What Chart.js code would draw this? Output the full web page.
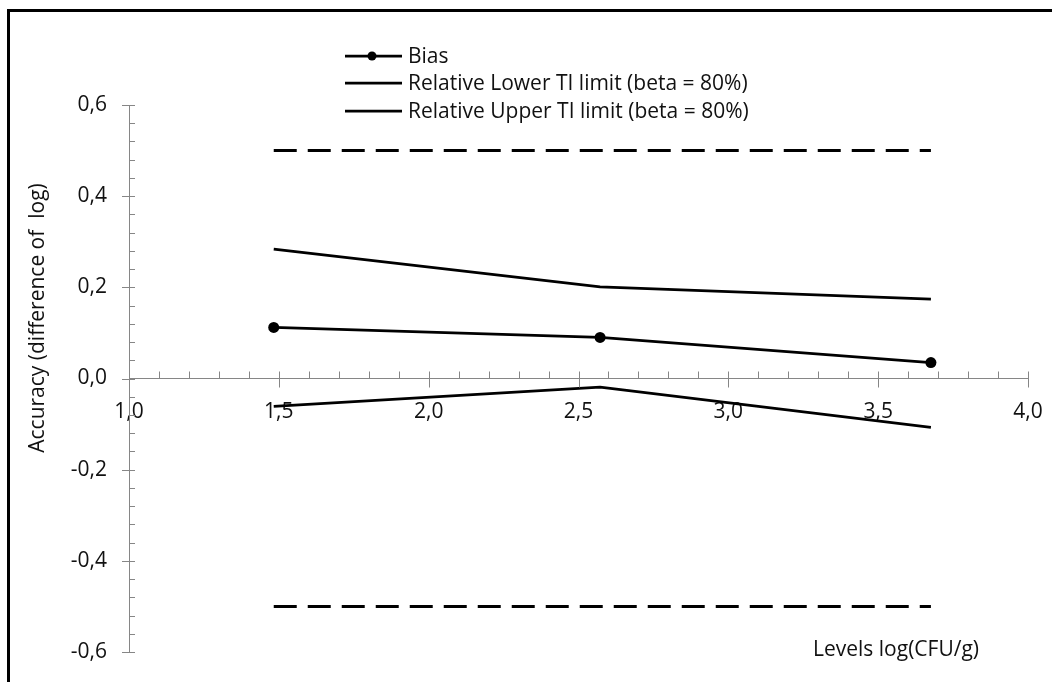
<!DOCTYPE html>
<html>
<head>
<meta charset="utf-8">
<script src="https://cdn.jsdelivr.net/npm/chart.js@4"></script>
<style>
  html, body { margin: 0; padding: 0; background: #fff; overflow: hidden; }
  #frame { position: absolute; left: 7px; top: 9px; width: 1200px; height: 800px; border: 3px solid #000; }
  #wrap { position: absolute; left: 0; top: 0; width: 1052px; height: 682px; }
</style>
</head>
<body>
<div id="frame"></div>
<div id="wrap"><canvas id="accChart" width="1052" height="682"></canvas></div>
<script>
// Levels and results
const levels = [1.483, 2.572, 3.676];
const bias = [0.112, 0.090, 0.035];
const lowerTI = [-0.061, -0.019, -0.107];
const upperTI = [0.284, 0.201, 0.174];

// acceptance limits (dashed)
const limitX = [1.483, 3.676];
const upperLimit = [0.5, 0.5];
const lowerLimit = [-0.5, -0.5];

const legendLabels = ['Bias', 'Relative Lower TI limit (beta = 80%)', 'Relative Upper TI limit (beta = 80%)'];
const xTitle = 'Levels log(CFU/g)';
const yTitle = 'Accuracy (difference of  log)';

const FONT = '"Open Sans", "Noto Sans", sans-serif';
const FSIZE = 21;
const TXT = '#111';

function pts(xs, ys) {
    return xs.map((x, i) => ({ x: x, y: ys[i] }));
}

function fmt(v) {
    if (Math.abs(v) < 1e-9) v = 0;
    return v.toFixed(1).replace('.', ',');
}

// Excel-like tick marks, axis titles and legend
const decor = {
    id: 'decor',
    afterDraw(chart) {
        const ctx = chart.ctx;
        const xs = chart.scales.x, ys = chart.scales.y;
        const x0 = ys.left + ys.width; // y axis line
        const y0 = ys.getPixelForValue(0); // x axis line
        ctx.save();
        ctx.strokeStyle = '#868686';
        ctx.lineWidth = 1;
        ctx.beginPath();
        // y axis: major cross, minor inside
        for (let i = 0; i <= 30; i++) {
            const v = -0.6 + i * 0.04;
            const p = Math.round(ys.getPixelForValue(v)) + 0.5;
            const major = i % 5 === 0;
            ctx.moveTo(major ? x0 - 7 : x0, p);
            ctx.lineTo(x0 + 6, p);
        }
        // x axis
        for (let i = 0; i <= 30; i++) {
            const v = 1 + i * 0.1;
            const p = Math.round(xs.getPixelForValue(v)) + 0.5;
            const major = i % 5 === 0;
            ctx.moveTo(p, y0 - 7);
            ctx.lineTo(p, major ? y0 + 9 : y0);
        }
        ctx.stroke();

        ctx.fillStyle = TXT;
        ctx.font = FSIZE + 'px ' + FONT;
        ctx.textBaseline = 'middle';
        ctx.textAlign = 'center';
        ctx.fillText(xTitle, 896, 650);
        ctx.save();
        ctx.translate(38, 318);
        ctx.rotate(-Math.PI / 2);
        ctx.fillText(yTitle, 0, 0);
        ctx.restore();

        // legend
        ctx.textAlign = 'left';
        const rows = [56, 83, 111];
        legendLabels.forEach((lab, i) => {
            const ds = chart.data.datasets[i];
            ctx.strokeStyle = ds.borderColor;
            ctx.lineWidth = ds.borderWidth;
            ctx.beginPath();
            ctx.moveTo(345, rows[i]);
            ctx.lineTo(402, rows[i]);
            ctx.stroke();
            if (ds.pointRadius > 0) {
                ctx.fillStyle = ds.pointBackgroundColor;
                ctx.beginPath();
                ctx.arc(372, rows[i], ds.pointRadius - 1, 0, Math.PI * 2);
                ctx.fill();
            }
            ctx.fillStyle = TXT;
            ctx.fillText(lab, 408, rows[i] + 1);
        });
        ctx.restore();
    }
};

const ctx = document.getElementById('accChart').getContext('2d');
const accChart = new Chart(ctx, {
    type: 'scatter',
    data: {
        datasets: [{
            label: legendLabels[0],
            data: pts(levels, bias),
            showLine: true,
            borderColor: '#000',
            borderWidth: 2.75,
            pointRadius: 5.5,
            pointBackgroundColor: '#000',
            pointBorderWidth: 0
        }, {
            label: legendLabels[1],
            data: pts(levels, lowerTI),
            showLine: true,
            borderColor: '#000',
            borderWidth: 2.75,
            pointRadius: 0
        }, {
            label: legendLabels[2],
            data: pts(levels, upperTI),
            showLine: true,
            borderColor: '#000',
            borderWidth: 2.75,
            pointRadius: 0
        }, {
            label: 'Upper limit',
            data: pts(limitX, upperLimit),
            showLine: true,
            borderColor: '#000',
            borderWidth: 3,
            borderDash: [23, 11],
            pointRadius: 0
        }, {
            label: 'Lower limit',
            data: pts(limitX, lowerLimit),
            showLine: true,
            borderColor: '#000',
            borderWidth: 3,
            borderDash: [23, 11],
            pointRadius: 0
        }]
    },
    options: {
        responsive: false,
        animation: false,
        layout: { padding: { left: 0, right: 24, top: 105, bottom: 30 } },
        plugins: {
            legend: { display: false },
            tooltip: { enabled: false }
        },
        scales: {
            x: {
                type: 'linear',
                position: { y: 0 },
                min: 1,
                max: 4,
                afterFit: (s) => {
                    s.height = 0;
                    s.paddingLeft = 0; s.paddingRight = 0;
                    s.paddingTop = 0; s.paddingBottom = 0;
                },
                ticks: {
                    stepSize: 0.5,
                    padding: 21,
                    color: TXT,
                    font: { family: FONT, size: FSIZE },
                    callback: (v) => fmt(v)
                },
                grid: { display: false, drawTicks: false },
                border: { display: true, color: '#868686', width: 1 }
            },
            y: {
                type: 'linear',
                min: -0.6,
                max: 0.6,
                afterFit: (s) => {
                    s.width = 129;
                    s.paddingTop = 0; s.paddingBottom = 0;
                    s.paddingLeft = 0; s.paddingRight = 0;
                },
                ticks: {
                    stepSize: 0.2,
                    padding: 22,
                    color: TXT,
                    font: { family: FONT, size: FSIZE },
                    callback: (v) => fmt(v)
                },
                grid: { display: false, drawTicks: false },
                border: { display: true, color: '#868686', width: 1 }
            }
        }
    },
    plugins: [decor]
});
</script>
</body>
</html>
